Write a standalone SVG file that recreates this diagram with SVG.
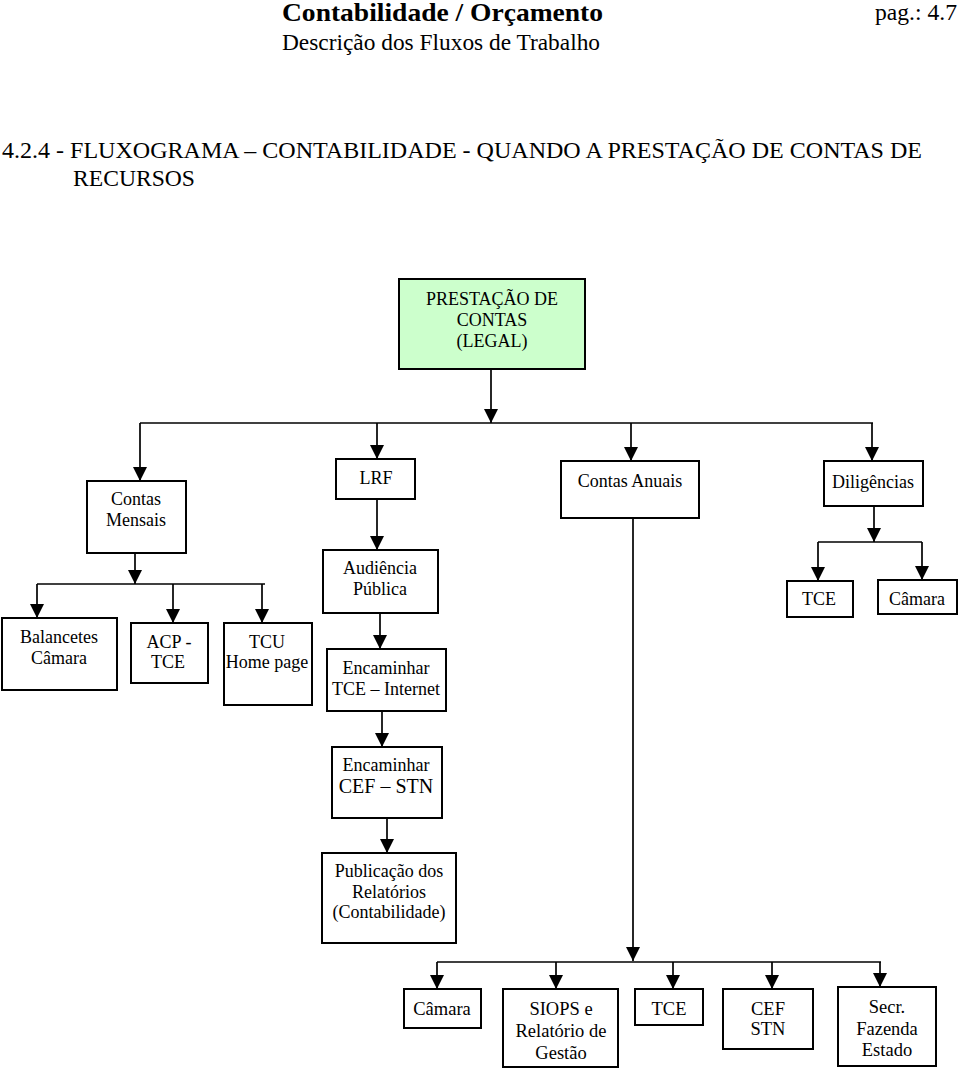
<svg xmlns="http://www.w3.org/2000/svg" width="960" height="1070" viewBox="0 0 960 1070">
<defs>
<marker id="ah" markerUnits="userSpaceOnUse" markerWidth="14" markerHeight="14" refX="14" refY="7" orient="auto" viewBox="0 0 14 14">
<path d="M0,0 L14,7 L0,14 z" fill="#000"/>
</marker>
<style>
text{font-family:"Liberation Serif","Times New Roman",serif;fill:#000}
.n rect{fill:#fff;stroke:#000;stroke-width:2}
.n text{font-size:18px;text-anchor:middle}
.b text{font-size:18.5px}
#conn line{stroke:#000;stroke-width:1.7;fill:none}
#conn .a{marker-end:url(#ah)}
</style>
</defs>
<rect x="0" y="0" width="960" height="1070" fill="#fff"/>

<g id="header">
<text x="282" y="21" font-size="26" font-weight="bold" textLength="321" lengthAdjust="spacingAndGlyphs">Contabilidade / Orçamento</text>
<text x="282" y="50" font-size="23" textLength="318" lengthAdjust="spacingAndGlyphs">Descrição dos Fluxos de Trabalho</text>
<text x="875" y="20" font-size="23" textLength="82" lengthAdjust="spacingAndGlyphs">pag.: 4.7</text>
<text x="2" y="158" font-size="23" textLength="920" lengthAdjust="spacingAndGlyphs">4.2.4 - FLUXOGRAMA – CONTABILIDADE - QUANDO A PRESTAÇÃO DE CONTAS DE</text>
<text x="73" y="186" font-size="23" textLength="122" lengthAdjust="spacingAndGlyphs">RECURSOS</text>
</g>

<g id="conn">
<line class="a" x1="491" y1="369" x2="491" y2="423"/>
<line x1="140" y1="423" x2="873" y2="423"/>
<line class="a" x1="140" y1="423" x2="140" y2="481"/>
<line class="a" x1="377" y1="423" x2="377" y2="459"/>
<line class="a" x1="631" y1="423" x2="631" y2="461"/>
<line class="a" x1="872" y1="423" x2="872" y2="461"/>
<line class="a" x1="377" y1="499" x2="377" y2="550"/>
<line class="a" x1="380" y1="613" x2="380" y2="649"/>
<line class="a" x1="382" y1="711" x2="382" y2="747"/>
<line class="a" x1="387" y1="818" x2="387" y2="853"/>
<line class="a" x1="135" y1="553" x2="135" y2="584"/>
<line x1="37" y1="584" x2="265" y2="584"/>
<line class="a" x1="37" y1="584" x2="37" y2="618"/>
<line class="a" x1="173" y1="584" x2="173" y2="623"/>
<line class="a" x1="262" y1="584" x2="262" y2="623"/>
<line class="a" x1="874" y1="506" x2="874" y2="542"/>
<line x1="818" y1="542" x2="922" y2="542"/>
<line class="a" x1="818" y1="542" x2="818" y2="581"/>
<line class="a" x1="922" y1="542" x2="922" y2="580"/>
<line class="a" x1="633" y1="518" x2="633" y2="961"/>
<line x1="437" y1="962" x2="881" y2="962"/>
<line class="a" x1="437" y1="962" x2="437" y2="989"/>
<line class="a" x1="556" y1="962" x2="556" y2="989"/>
<line class="a" x1="673" y1="962" x2="673" y2="989"/>
<line class="a" x1="772" y1="962" x2="772" y2="989"/>
<line class="a" x1="880" y1="962" x2="880" y2="987"/>
</g>

<g id="prestacao" class="n">
<rect x="399" y="279" width="186" height="90" style="fill:#ccffcc"/>
<text x="492" y="305">PRESTAÇÃO DE</text>
<text x="492" y="326">CONTAS</text>
<text x="492" y="347">(LEGAL)</text>
</g>

<g id="contas-mensais" class="n">
<rect x="87" y="481" width="99" height="72"/>
<text x="136" y="505">Contas</text>
<text x="136" y="526">Mensais</text>
</g>

<g id="lrf" class="n">
<rect x="336" y="459" width="79" height="40"/>
<text x="376" y="484">LRF</text>
</g>

<g id="contas-anuais" class="n">
<rect x="561" y="461" width="138" height="57"/>
<text x="630" y="487">Contas Anuais</text>
</g>

<g id="diligencias" class="n">
<rect x="824" y="461" width="99" height="45"/>
<text x="873" y="488">Diligências</text>
</g>

<g id="audiencia" class="n">
<rect x="323" y="550" width="115" height="63"/>
<text x="380" y="574">Audiência</text>
<text x="380" y="595">Pública</text>
</g>

<g id="enc-tce" class="n">
<rect x="327" y="649" width="119" height="62"/>
<text x="386" y="674">Encaminhar</text>
<text x="386" y="695">TCE – Internet</text>
</g>

<g id="enc-cef" class="n">
<rect x="332" y="747" width="110" height="71"/>
<text x="386" y="771">Encaminhar</text>
<text x="386" y="793" style="font-size:20px">CEF – STN</text>
</g>

<g id="publicacao" class="n">
<rect x="322" y="853" width="134" height="90"/>
<text x="389" y="877">Publicação dos</text>
<text x="389" y="898">Relatórios</text>
<text x="389" y="918">(Contabilidade)</text>
</g>

<g id="balancetes" class="n">
<rect x="2" y="618" width="115" height="72"/>
<text x="59" y="643">Balancetes</text>
<text x="59" y="664">Câmara</text>
</g>

<g id="acp-tce" class="n">
<rect x="131" y="623" width="77" height="60"/>
<text x="169" y="648">ACP -</text>
<text x="168" y="668">TCE</text>
</g>

<g id="tcu" class="n">
<rect x="224" y="623" width="88" height="82"/>
<text x="267" y="648">TCU</text>
<text x="267" y="668">Home page</text>
</g>

<g id="dil-tce" class="n">
<rect x="787" y="581" width="66" height="36"/>
<text x="819" y="605">TCE</text>
</g>

<g id="dil-camara" class="n">
<rect x="878" y="580" width="79" height="34"/>
<text x="917" y="605">Câmara</text>
</g>

<g id="b-camara" class="n b">
<rect x="404" y="989" width="77" height="39"/>
<text x="442" y="1015">Câmara</text>
</g>

<g id="b-siops" class="n b">
<rect x="503" y="989" width="115" height="78"/>
<text x="561" y="1015">SIOPS  e</text>
<text x="561" y="1037">Relatório de</text>
<text x="561" y="1059">Gestão</text>
</g>

<g id="b-tce" class="n b">
<rect x="635" y="989" width="68" height="36"/>
<text x="669" y="1015">TCE</text>
</g>

<g id="b-cef" class="n b">
<rect x="723" y="989" width="90" height="60"/>
<text x="768" y="1015">CEF</text>
<text x="768" y="1035">STN</text>
</g>

<g id="b-secr" class="n b">
<rect x="838" y="987" width="98" height="79"/>
<text x="887" y="1013">Secr.</text>
<text x="887" y="1035">Fazenda</text>
<text x="887" y="1056">Estado</text>
</g>
</svg>
